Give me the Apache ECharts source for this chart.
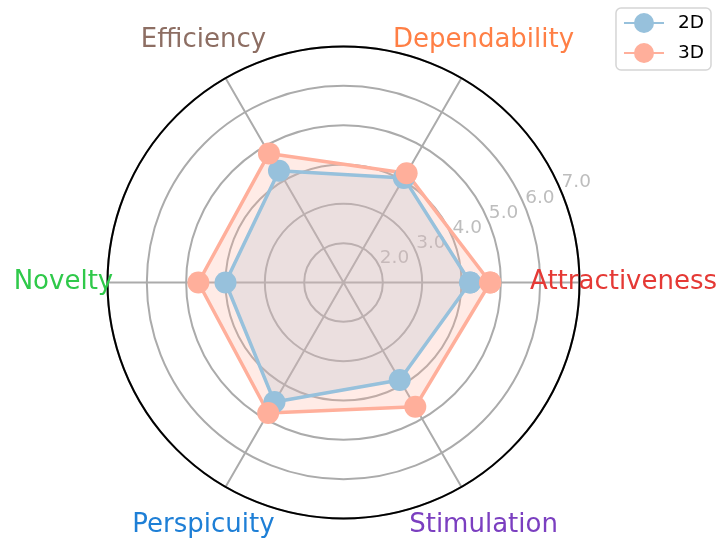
<!DOCTYPE html>
<html>
<head>
<meta charset="utf-8">
<script src="https://cdn.jsdelivr.net/npm/echarts@6/dist/echarts.min.js"></script>
<style>
  html, body { margin: 0; background: #fff; }
  #chart { width: 718px; height: 539px; }
</style>
</head>
<body>
<div id="chart"></div>
<script>
// categories, their angles (deg, counter-clockwise from east) and label colours
const categories = ['Attractiveness', 'Dependability', 'Efficiency', 'Novelty', 'Perspicuity', 'Stimulation'];
const angles = [0, 60, 120, 180, 240, 300];
const labelColors = ['#e53935', '#ff7f45', '#8d6e63', '#2fc94a', '#1e7fd6', '#7b3fc0'];

// scores
const scores2D = [4.22, 4.07, 4.28, 4.00, 4.51, 3.86];
const scores3D = [4.73, 4.21, 4.79, 4.69, 4.83, 4.65];

const seriesNames = ['2D', '3D'];
const seriesColors = ['#97c1dc', '#ffaf9b'];

const FONT = 'DejaVu Sans';
const CENTER = [343.5, 282.5];
const RADIUS = 236;
const R_MIN = 1, R_MAX = 7;
const LABEL_R = 8.12; // where the category names sit, just outside the rim

// close the loop by repeating the first point at 360 deg
const toLoop = (vals) => {
  const pts = vals.map((v, i) => [v, angles[i]]);
  pts.push([vals[0], 360]);
  return pts;
};

const chart = echarts.init(document.getElementById('chart'));

const makeSeries = (name, vals, color) => ({
  name: name,
  type: 'line',
  coordinateSystem: 'polar',
  polarIndex: 0,
  data: toLoop(vals),
  symbol: 'circle',
  symbolSize: 22,
  lineStyle: { color: color, width: 3.5 },
  itemStyle: { color: color },
  areaStyle: { color: color, opacity: 0.25 },
  emphasis: { disabled: true },
  z: 3
});

chart.setOption({
  animation: false,
  legend: {
    data: seriesNames,
    orient: 'vertical',
    right: 7,
    top: 8,
    itemWidth: 40,
    itemHeight: 25,
    itemGap: 10,
    padding: [5, 7, 7, 7],
    borderColor: '#d5d5d5',
    borderWidth: 1.5,
    borderRadius: 5,
    backgroundColor: '#fff',
    textStyle: { fontFamily: FONT, fontSize: 18.5, color: '#000', padding: [0, 0, 0, 9] }
  },
  polar: [
    { center: CENTER, radius: RADIUS },
    { center: CENTER, radius: RADIUS }
  ],
  angleAxis: [
    {
      polarIndex: 0,
      type: 'value',
      min: 0,
      max: 360,
      interval: 60,
      startAngle: 0,
      clockwise: false,
      axisLine: { show: true, lineStyle: { color: '#000', width: 2 } },
      axisTick: { show: false },
      axisLabel: { show: false },
      splitLine: { show: true, lineStyle: { color: '#ababab', width: 2 } },
      z: 1
    },
    {
      polarIndex: 1,
      type: 'value',
      min: 0,
      max: 360,
      startAngle: 22.5,
      clockwise: false,
      show: false
    }
  ],
  radiusAxis: [
    {
      polarIndex: 0,
      type: 'value',
      min: R_MIN,
      max: R_MAX,
      interval: 1,
      axisLine: { show: false },
      axisTick: { show: false },
      axisLabel: { show: false },
      splitLine: { show: true, lineStyle: { color: '#ababab', width: 2 } }
    },
    {
      polarIndex: 1,
      type: 'value',
      min: R_MIN,
      max: R_MAX,
      interval: 1,
      axisLine: { show: false },
      axisTick: { show: false },
      splitLine: { show: false },
      axisLabel: {
        fontFamily: FONT,
        fontSize: 18.5,
        color: '#bdbdbd',
        margin: 0,
        align: 'left',
        verticalAlign: 'bottom',
        showMinLabel: false,
        formatter: (v) => v.toFixed(1)
      }
    }
  ],
  series: [
    makeSeries(seriesNames[0], scores2D, seriesColors[0]),
    makeSeries(seriesNames[1], scores3D, seriesColors[1]),
    {
      // category names, placed through the polar scales just outside the rim
      type: 'scatter',
      coordinateSystem: 'polar',
      polarIndex: 0,
      clip: false,
      silent: true,
      symbolSize: 1,
      itemStyle: { color: 'rgba(0,0,0,0)', opacity: 1 },
      data: categories.map((c, i) => ({
        name: c,
        value: [LABEL_R, angles[i]],
        label: { color: labelColors[i] }
      })),
      label: {
        show: true,
        position: 'inside',
        formatter: (p) => p.name,
        fontFamily: FONT,
        fontSize: 26,
        opacity: 1,
        align: 'center',
        verticalAlign: 'middle'
      },
      z: 4
    }
  ]
});
</script>
</body>
</html>
